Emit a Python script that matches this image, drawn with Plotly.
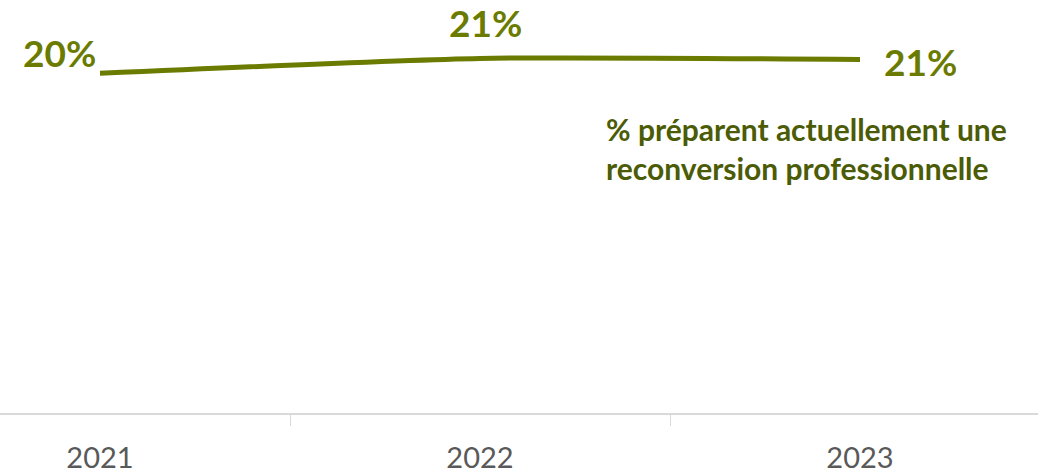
import plotly.graph_objects as go

years = ["2021", "2022", "2023"]
values = [20.0, 20.88, 20.82]
labels = ["20%", "21%", "21%"]
series_name = "% préparent actuellement une<br>reconversion professionnelle"

LINE = "#6b7b00"
TEXT = "#4b5b06"
FONT = "Lato"

fig = go.Figure()
fig.add_trace(go.Scatter(
    x=years, y=values, mode="lines",
    line=dict(color=LINE, width=5, shape="spline", smoothing=0.6),
    hoverinfo="skip", showlegend=False,
))

shifts = [(-41, 21), (5, 36), (60, -2)]
for i, (v, lab, (dx, dy)) in enumerate(zip(values, labels, shifts)):
    fig.add_annotation(x=i, y=v, xref="x", yref="y", text="<b>%s</b>" % lab,
                       showarrow=False, xshift=dx, yshift=dy,
                       font=dict(family=FONT, size=37, color=LINE))

fig.add_annotation(x=604 / 1038, y=1 - 150 / 417, xref="paper", yref="paper",
                   text="<b>" + series_name + "</b>",
                   showarrow=False, xanchor="left", yanchor="middle", align="left",
                   font=dict(family=FONT, size=30, color=TEXT))

fig.update_layout(
    width=1038, height=474,
    margin=dict(l=0, r=0, t=0, b=57),
    paper_bgcolor="white", plot_bgcolor="white",
    xaxis=dict(type="category", range=[-100 / 380, 938 / 380],
               showline=True, linecolor="#d9d9d9", linewidth=1.5,
               showgrid=False, zeroline=False,
               tickson="boundaries", ticks="outside", ticklen=11,
               tickcolor="#d9d9d9", tickwidth=1,
               tickfont=dict(family=FONT, size=29, color="#595959"),
               ticklabelstandoff=18),
    yaxis=dict(range=[0, 24.32], visible=False),
)

fig.write_html("out.html", config={"displayModeBar": False},
               post_script="document.body.style.margin='0';")
